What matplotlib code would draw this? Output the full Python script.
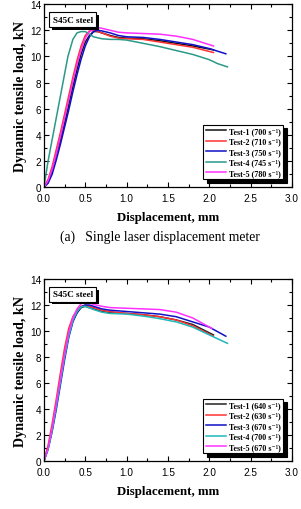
import matplotlib
matplotlib.use("Agg")
import matplotlib.pyplot as plt
from matplotlib.ticker import AutoMinorLocator
import matplotlib.patheffects as pe

# ---------- data: panel (a) ----------
a_labels = ["Test-1 (700 s⁻¹)", "Test-2 (710 s⁻¹)", "Test-3 (750 s⁻¹)",
            "Test-4 (745 s⁻¹)", "Test-5 (780 s⁻¹)"]
a1_x = [0, 0.05, 0.1, 0.15, 0.2, 0.25, 0.3, 0.35, 0.4, 0.45, 0.5, 0.55, 0.6, 0.65, 0.7, 0.8, 0.9, 1.0, 1.2, 1.4, 1.6, 1.8, 2.05]
a1_y = [0, 0.4, 1.3, 2.5, 3.6, 4.9, 6.3, 7.7, 9.0, 10.2, 11.1, 11.6, 11.9, 11.9, 11.8, 11.6, 11.45, 11.4, 11.35, 11.2, 11.0, 10.8, 10.5]
a2_x = [0, 0.05, 0.1, 0.15, 0.2, 0.25, 0.3, 0.35, 0.4, 0.45, 0.5, 0.55, 0.6, 0.7, 0.8, 0.9, 1.0, 1.2, 1.4, 1.6, 1.8, 2.05]
a2_y = [0, 0.6, 1.6, 2.9, 4.2, 5.6, 7.0, 8.4, 9.7, 10.8, 11.6, 11.95, 12.0, 11.8, 11.55, 11.4, 11.35, 11.3, 11.1, 10.9, 10.7, 10.3]
a3_x = [0, 0.05, 0.1, 0.15, 0.2, 0.25, 0.3, 0.35, 0.4, 0.45, 0.5, 0.55, 0.6, 0.65, 0.7, 0.8, 0.9, 1.0, 1.2, 1.4, 1.6, 1.8, 2.0, 2.2]
a3_y = [0, 0.3, 1.0, 2.1, 3.3, 4.6, 5.9, 7.3, 8.6, 9.8, 10.8, 11.5, 11.9, 12.0, 11.95, 11.8, 11.6, 11.5, 11.45, 11.3, 11.1, 10.9, 10.6, 10.2]
a4_x = [0, 0.02, 0.05, 0.11, 0.17, 0.23, 0.29, 0.35, 0.4, 0.45, 0.5, 0.55, 0.6, 0.7, 0.8, 0.9, 1.0, 1.2, 1.4, 1.6, 1.8, 2.0, 2.1, 2.22]
a4_y = [0, 0.8, 2.0, 4.0, 6.0, 8.0, 10.0, 11.3, 11.8, 11.9, 11.9, 11.7, 11.5, 11.35, 11.3, 11.3, 11.25, 11.0, 10.75, 10.45, 10.15, 9.75, 9.45, 9.2]
a5_x = [0, 0.05, 0.1, 0.15, 0.2, 0.25, 0.3, 0.35, 0.4, 0.45, 0.5, 0.55, 0.6, 0.65, 0.7, 0.8, 0.9, 1.0, 1.2, 1.4, 1.6, 1.8, 2.05]
a5_y = [0, 0.5, 1.4, 2.6, 3.9, 5.3, 6.7, 8.1, 9.4, 10.5, 11.4, 11.9, 12.1, 12.2, 12.15, 12.0, 11.85, 11.8, 11.75, 11.7, 11.55, 11.3, 10.8]

# ---------- data: panel (b) ----------
b_labels = ["Test-1 (640 s⁻¹)", "Test-2 (630 s⁻¹)", "Test-3 (670 s⁻¹)",
            "Test-4 (700 s⁻¹)", "Test-5 (670 s⁻¹)"]
b1_x = [0, 0.05, 0.1, 0.15, 0.2, 0.25, 0.3, 0.35, 0.4, 0.45, 0.5, 0.6, 0.7, 0.8, 1.0, 1.2, 1.4, 1.6, 1.8, 2.05]
b1_y = [0, 1.0, 2.5, 4.3, 6.2, 8.1, 9.7, 10.8, 11.4, 11.8, 11.9, 11.7, 11.5, 11.4, 11.35, 11.25, 11.1, 10.85, 10.5, 9.7]
b2_x = [0, 0.05, 0.1, 0.15, 0.2, 0.25, 0.3, 0.35, 0.4, 0.45, 0.5, 0.6, 0.7, 0.8, 1.0, 1.2, 1.4, 1.6, 1.8, 2.05]
b2_y = [0, 1.2, 2.9, 4.8, 6.8, 8.7, 10.2, 11.1, 11.6, 11.9, 12.0, 11.8, 11.6, 11.5, 11.35, 11.25, 11.1, 10.85, 10.4, 9.6]
b3_x = [0, 0.05, 0.1, 0.15, 0.2, 0.25, 0.3, 0.35, 0.4, 0.45, 0.5, 0.55, 0.6, 0.7, 0.8, 1.0, 1.2, 1.4, 1.6, 1.8, 2.0, 2.2]
b3_y = [0, 0.9, 2.3, 4.0, 5.9, 7.8, 9.5, 10.7, 11.4, 11.85, 12.0, 12.0, 11.9, 11.7, 11.6, 11.5, 11.4, 11.3, 11.1, 10.7, 10.3, 9.6]
b4_x = [0, 0.05, 0.1, 0.15, 0.2, 0.25, 0.3, 0.35, 0.4, 0.45, 0.5, 0.6, 0.7, 0.8, 1.0, 1.2, 1.4, 1.6, 1.8, 2.0, 2.22]
b4_y = [0, 0.9, 2.4, 4.2, 6.1, 8.0, 9.6, 10.8, 11.5, 11.85, 11.9, 11.65, 11.45, 11.35, 11.3, 11.15, 10.95, 10.7, 10.3, 9.7, 9.05]
b5_x = [0, 0.05, 0.1, 0.15, 0.2, 0.25, 0.3, 0.35, 0.4, 0.45, 0.5, 0.55, 0.6, 0.7, 0.8, 1.0, 1.2, 1.4, 1.6, 1.8, 2.03]
b5_y = [0, 1.0, 2.6, 4.5, 6.4, 8.3, 9.9, 11.0, 11.7, 12.1, 12.2, 12.15, 12.05, 11.9, 11.8, 11.75, 11.7, 11.65, 11.45, 11.0, 10.2]

x_ticks = [0.0, 0.5, 1.0, 1.5, 2.0, 2.5, 3.0]
y_ticks = [0, 2, 4, 6, 8, 10, 12, 14]

colors_a = ['#111111', '#ff3030', '#1010c8', '#2a9a88', '#ff30ff']
colors_b = ['#222222', '#ff3030', '#1010c8', '#20b8b8', '#ff30ff']

serif = 'Liberation Serif'
serif_list = ['Liberation Serif', 'DejaVu Serif']
sans = 'Liberation Sans'

fig = plt.figure(figsize=(3.01, 5.10), dpi=100)
ax_a = fig.add_axes([0.146, 0.631, 0.824, 0.359])
ax_b = fig.add_axes([0.146, 0.094, 0.824, 0.357])


def style(ax, series, labels, colors):
    for (x, y), lab, c in zip(series, labels, colors):
        ax.plot(x, y, color=c, lw=1.1, label=lab)
    ax.set_xlim(0, 3.0)
    ax.set_ylim(0, 14)
    ax.set_xticks(x_ticks)
    ax.set_yticks(y_ticks)
    ax.set_xticklabels([f"{v:.1f}" for v in x_ticks], family=sans, fontsize=7.2)
    ax.set_yticklabels([str(v) for v in y_ticks], family=sans, fontsize=7.2)
    ax.xaxis.set_minor_locator(AutoMinorLocator(2))
    ax.yaxis.set_minor_locator(AutoMinorLocator(2))
    ax.tick_params(which='both', direction='in', top=True, right=True, width=0.8)
    ax.tick_params(which='major', length=3.5)
    ax.tick_params(which='minor', length=2)
    ax.tick_params(axis='x', which='major', pad=4)
    ax.tick_params(axis='y', which='major', pad=2)
    for s in ax.spines.values():
        s.set_linewidth(0.9)
    ax.set_xlabel("Displacement, mm", family=serif, fontweight='bold', fontsize=9.3, labelpad=6)
    ax.set_ylabel("Dynamic tensile load, kN", family=serif, fontweight='bold', fontsize=10.2, labelpad=2)
    leg = ax.legend(loc='lower right', prop={'family': serif_list, 'weight': 'bold', 'size': 5.8},
                    frameon=True, fancybox=False, edgecolor='black', framealpha=1,
                    shadow={'color': 'black', 'alpha': 1, 'ox': 2.5, 'oy': -2.5},
                    handlelength=2.5, handletextpad=0.4, labelspacing=0.3,
                    borderpad=0.3, borderaxespad=0.3, bbox_to_anchor=(0.975, 0.03))
    leg.get_frame().set_linewidth(0.8)
    t = ax.text(0.035, 0.915, "S45C steel", transform=ax.transAxes, family=serif,
                fontweight='bold', fontsize=6.6, va='center', ha='left',
                bbox=dict(boxstyle='square,pad=0.35', fc='white', ec='black', lw=0.8))
    t.get_bbox_patch().set_path_effects([pe.SimplePatchShadow(offset=(2, -2), shadow_rgbFace='black', alpha=1),
                                          pe.Normal()])


style(ax_a, [(a1_x, a1_y), (a2_x, a2_y), (a3_x, a3_y), (a4_x, a4_y), (a5_x, a5_y)], a_labels, colors_a)
style(ax_b, [(b1_x, b1_y), (b2_x, b2_y), (b3_x, b3_y), (b4_x, b4_y), (b5_x, b5_y)], b_labels, colors_b)

fig.text(0.53, 0.535, "(a)   Single laser displacement meter", family=serif, fontsize=9.8,
         ha='center', va='center')

fig.savefig("out.png", dpi=100)
